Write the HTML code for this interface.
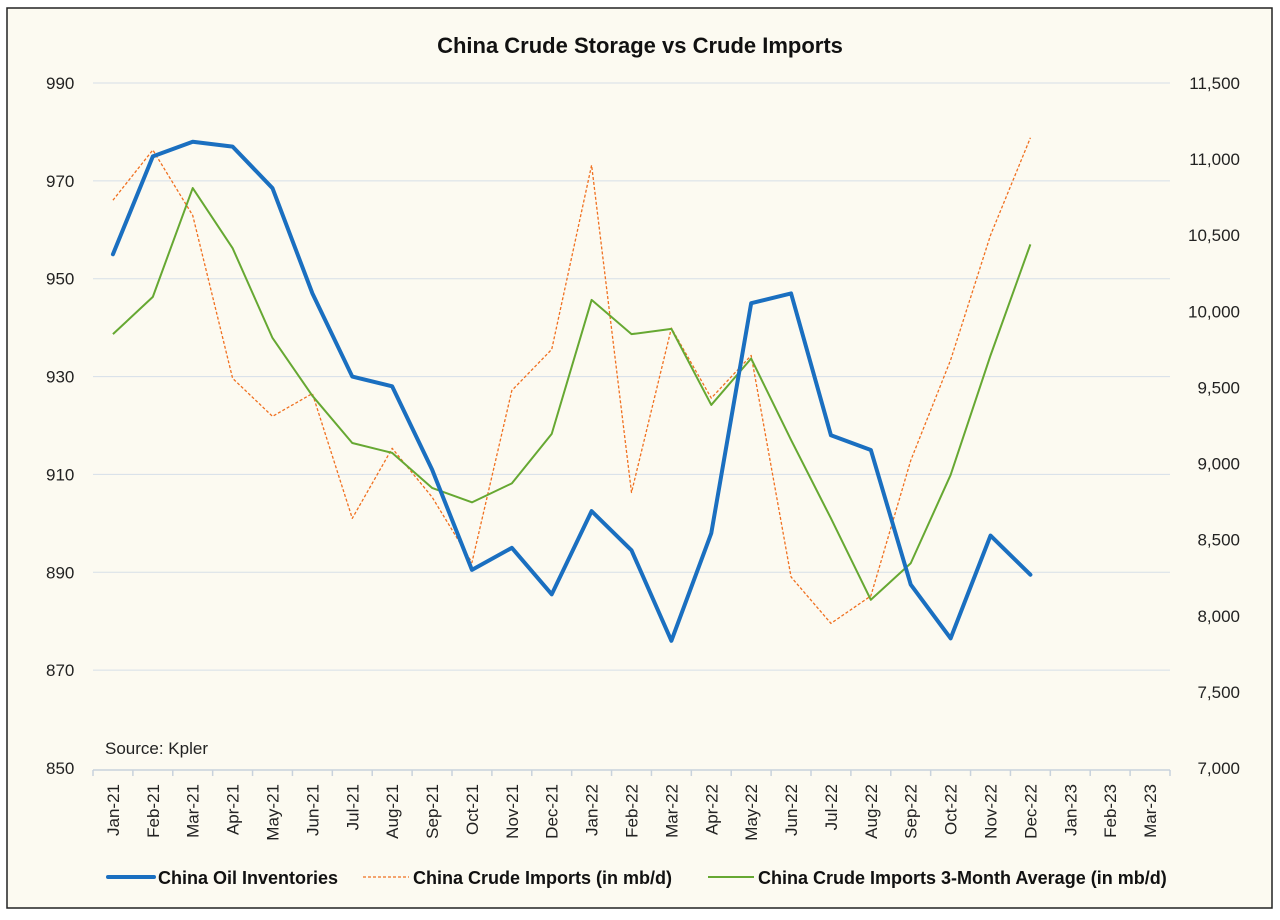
<!DOCTYPE html>
<html><head><meta charset="utf-8"><style>
body{margin:0;background:#fff;}
svg{display:block;font-family:"Liberation Sans",sans-serif;}
</style></head><body>
<svg id="c" width="1280" height="920">
<rect x="0" y="0" width="1280" height="920" fill="#fff"/>
<rect x="7" y="8" width="1265" height="900" fill="#fcfaf1" stroke="#222" stroke-width="1.5"/>
<text x="640" y="53" text-anchor="middle" font-size="22" font-weight="bold" fill="#111">China Crude Storage vs Crude Imports</text>
<g id="grid"></g><g id="axes"></g><g id="series"></g>
<text x="105" y="754" font-size="17" fill="#222">Source: Kpler</text>
<g id="legend"></g>
</svg>
<script>
const categories=["Jan-21","Feb-21","Mar-21","Apr-21","May-21","Jun-21","Jul-21","Aug-21","Sep-21","Oct-21","Nov-21","Dec-21","Jan-22","Feb-22","Mar-22","Apr-22","May-22","Jun-22","Jul-22","Aug-22","Sep-22","Oct-22","Nov-22","Dec-22","Jan-23","Feb-23","Mar-23"];
const inventories=[955,975,978,977,968.5,947,930,928,911,890.5,895,885.5,902.5,894.5,876,898,945,947,918,915,887.5,876.5,897.5,889.5];
const imports=[10730,11060,10630,9560,9310,9460,8640,9100,8780,8350,9480,9750,10960,8810,9890,9430,9710,8255,7950,8130,9020,9680,10500,11140];
const imports3m=[9850,10095,10810,10415,9825,9445,9135,9070,8840,8745,8870,9195,10075,9850,9885,9385,9690,9155,8640,8105,8345,8925,9710,10440];
const leftTicks=[850,870,890,910,930,950,970,990];
const rightTicks=[7000,7500,8000,8500,9000,9500,10000,10500,11000,11500];
const X0=93,X1=1170,Y0=768,Y1=83;
const bw=(X1-X0)/categories.length;
const x=i=>X0+bw*(i+0.5);
const yL=v=>Y0-(v-850)/(990-850)*(Y0-Y1);
const yR=v=>Y0-(v-7000)/(11500-7000)*(Y0-Y1);
const NS="http://www.w3.org/2000/svg";
function mk(p,t,a){const e=document.createElementNS(NS,t);for(const k in a)e.setAttribute(k,a[k]);p.appendChild(e);return e;}
const grid=document.getElementById('grid'),axes=document.getElementById('axes'),ser=document.getElementById('series'),leg=document.getElementById('legend');
leftTicks.forEach(v=>{
 if(v>850){const g=mk(grid,'line',{x1:X0,x2:X1,y1:yL(v),y2:yL(v),stroke:'#d6dfe8','stroke-width':1});
 
 }
 const t=mk(axes,'text',{x:46,y:yL(v)+6,'font-size':17,fill:'#222'});t.textContent=v;
 
 
});
rightTicks.forEach(v=>{
 const t=mk(axes,'text',{x:1240,y:yR(v)+6,'font-size':17,fill:'#222','text-anchor':'end'});t.textContent=v.toLocaleString('en-US');
 
 
});
const ax=mk(axes,'line',{x1:X0,x2:X1,y1:Y0+2,y2:Y0+2,stroke:'#c8d2dc','stroke-width':1.5});


for(let i=0;i<=categories.length;i++){const tk=mk(axes,'line',{x1:X0+bw*i,x2:X0+bw*i,y1:Y0+2,y2:Y0+8,stroke:'#c8d2dc','stroke-width':1.5});
 
 }
categories.forEach((c,i)=>{
 const t=mk(axes,'text',{x:0,y:0,'font-size':17,fill:'#222','text-anchor':'end',transform:`translate(${x(i)+6},784) rotate(-90)`});t.textContent=c;
 
 
});
function line(vals,yf,attrs,name){
 const p=mk(ser,'polyline',Object.assign({points:vals.map((v,i)=>x(i)+','+yf(v)).join(' '),fill:'none','stroke-linejoin':'round'},attrs));
 
 
}
line(imports,yR,{stroke:'#f07020','stroke-width':1.3,'stroke-dasharray':'3,2'},'imports-line');
line(imports3m,yR,{stroke:'#66a832','stroke-width':2},'imports-3m-avg-line');
line(inventories,yL,{stroke:'#1a6fc0','stroke-width':4,'stroke-linecap':'round'},'inventories-line');
const items=[[108,'China Oil Inventories','#1a6fc0',4,''],[363,'China Crude Imports (in mb/d)','#f07020',1.3,'3,2'],[708,'China Crude Imports 3-Month Average (in mb/d)','#66a832',2,'']];
items.forEach(it=>{
 const g=mk(leg,'g',{});
 
 
 mk(g,'line',{x1:it[0],x2:it[0]+46,y1:877,y2:877,stroke:it[2],'stroke-width':it[3],'stroke-dasharray':it[4],'stroke-linecap':it[3]>3?'round':'butt'});
 const t=mk(g,'text',{x:it[0]+50,y:884,'font-size':18,'font-weight':'bold',fill:'#111'});t.textContent=it[1];
});
</script>
</body></html>
